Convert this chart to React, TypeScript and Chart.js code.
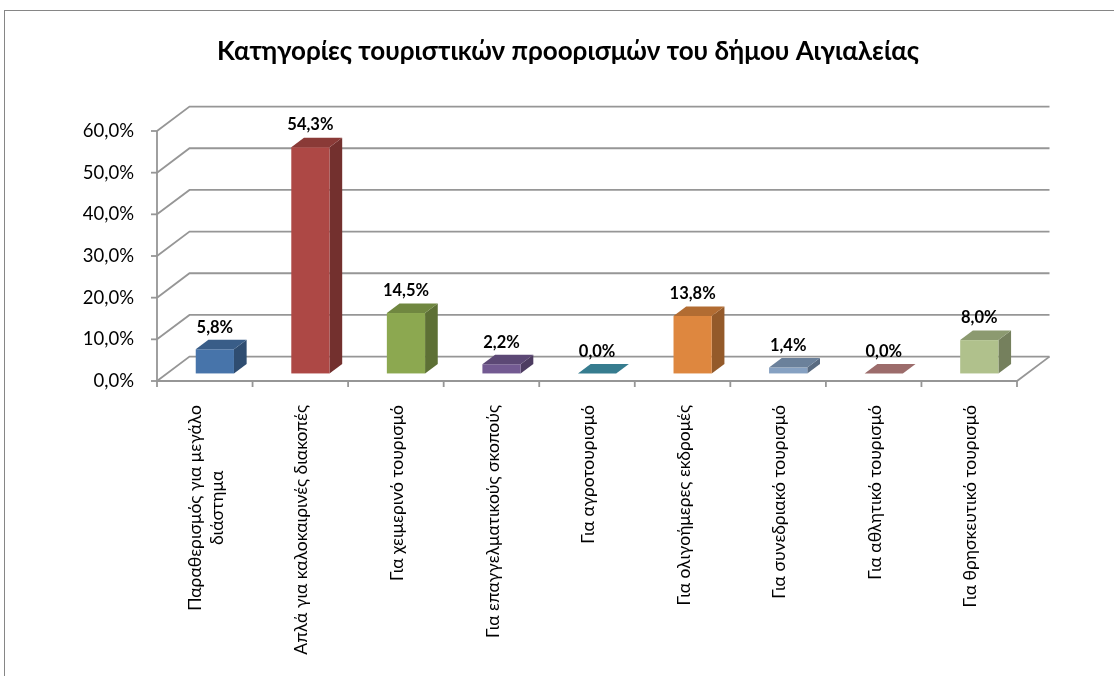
import { useEffect, useRef } from "react";
import { Chart, registerables } from "chart.js";
Chart.register(...registerables);

const chartTitle = "Κατηγορίες τουριστικών προορισμών του δήμου Αιγιαλείας";
const categories: (string | string[])[] = [
  ["Παραθερισμός για μεγάλο", "διάστημα"],
  "Απλά για καλοκαιρινές διακοπές",
  "Για χειμερινό τουρισμό",
  "Για επαγγελματικούς σκοπούς",
  "Για αγροτουρισμό",
  "Για ολιγοήμερες εκδρομές",
  "Για συνεδριακό τουρισμό",
  "Για αθλητικό τουρισμό",
  "Για θρησκευτικό τουρισμό",
];
const values = [5.8, 54.3, 14.5, 2.2, 0.0, 13.8, 1.4, 0.0, 8.0];
const yMin = 0;
const yMax = 60;
const yStep = 10;
const baseColors = [
  "#4F81BD",
  "#C0504D",
  "#9BBB59",
  "#8064A2",
  "#4BACC6",
  "#F79646",
  "#95B3D7",
  "#D99694",
  "#C3D69B",
];

const fmt = (v: number) => v.toFixed(1).replace(".", ",") + "%";

function shade(hex: string, k: number) {
  const n = parseInt(hex.slice(1), 16);
  const r = Math.round(((n >> 16) & 255) * k);
  const g = Math.round(((n >> 8) & 255) * k);
  const b = Math.round((n & 255) * k);
  return `rgb(${Math.min(255, r)},${Math.min(255, g)},${Math.min(255, b)})`;
}

const DX = 32.5;
const DY = -24.4;
const F1 = 0.31;
const F2 = 0.7;
const GRID = "#969696";

const plugin3d = {
  id: "excel3d",
  beforeDraw(chart: any) {
    const ctx = chart.ctx;
    ctx.save();
    ctx.fillStyle = "#ffffff";
    ctx.fillRect(0, 0, chart.width, chart.height);
    ctx.strokeStyle = "#868686";
    ctx.lineWidth = 1;
    ctx.strokeRect(4.5, 10.5, 1300, 800);
    ctx.fillStyle = "#000000";
    ctx.font = "bold 26px Lato";
    ctx.textAlign = "center";
    ctx.textBaseline = "middle";
    ctx.fillText(chartTitle, 568, 52);
    ctx.restore();
  },
  beforeDatasetsDraw(chart: any) {
    const ctx = chart.ctx;
    const xs = chart.scales.x;
    const ys = chart.scales.y;
    const L = chart.chartArea.left;
    const R = chart.chartArea.right;
    const B = ys.getPixelForValue(yMin);
    const T = ys.getPixelForValue(yMax);
    ctx.save();
    ctx.strokeStyle = GRID;
    ctx.lineWidth = 1.8;
    ctx.lineCap = "butt";
    for (let v = yMin; v <= yMax; v += yStep) {
      const y = ys.getPixelForValue(v);
      ctx.beginPath();
      ctx.moveTo(L, y);
      ctx.lineTo(L + DX, y + DY);
      ctx.lineTo(R + DX, y + DY);
      ctx.stroke();
      ctx.beginPath();
      ctx.moveTo(L - 6, y);
      ctx.lineTo(L, y);
      ctx.stroke();
    }
    ctx.beginPath();
    ctx.moveTo(L, T);
    ctx.lineTo(L, B);
    ctx.lineTo(R, B);
    ctx.lineTo(R + DX, B + DY);
    ctx.stroke();
    const n = categories.length;
    const cw = (R - L) / n;
    for (let i = 0; i <= n; i++) {
      const x = i < n ? xs.getPixelForValue(i) - cw / 2 : xs.getPixelForValue(n - 1) + cw / 2;
      ctx.beginPath();
      ctx.moveTo(x, B);
      ctx.lineTo(x, B + 6);
      ctx.stroke();
    }
    ctx.restore();
  },
  afterDatasetsDraw(chart: any) {
    const ctx = chart.ctx;
    const xs = chart.scales.x;
    const meta = chart.getDatasetMeta(0);
    ctx.save();
    meta.data.forEach((el: any, i: number) => {
      const p = el.getProps(["x", "y", "base", "width"], true);
      const l = p.x - p.width / 2;
      const r = p.x + p.width / 2;
      const ax = DX * F1, ay = DY * F1;
      const bx = DX * F2, by = DY * F2;
      const c = baseColors[i];
      ctx.fillStyle = shade(c, 0.6);
      ctx.beginPath();
      ctx.moveTo(r + ax, p.y + ay);
      ctx.lineTo(r + bx, p.y + by);
      ctx.lineTo(r + bx, p.base + by);
      ctx.lineTo(r + ax, p.base + ay);
      ctx.closePath();
      ctx.fill();
      ctx.fillStyle = shade(c, 0.9);
      ctx.fillRect(l + ax, p.y + ay, r - l, p.base - p.y);
      ctx.fillStyle = shade(c, 0.72);
      ctx.beginPath();
      ctx.moveTo(l + ax, p.y + ay);
      ctx.lineTo(r + ax, p.y + ay);
      ctx.lineTo(r + bx, p.y + by);
      ctx.lineTo(l + bx, p.y + by);
      ctx.closePath();
      ctx.fill();
      ctx.fillStyle = "#000000";
      ctx.font = "bold 16.5px Lato";
      ctx.textAlign = "center";
      ctx.textBaseline = "middle";
      ctx.fillText(fmt(values[i]), p.x + ax, p.y + by - 12.5);
    });
    ctx.font = "17.5px Lato";
    ctx.fillStyle = "#000000";
    ctx.textAlign = "center";
    ctx.textBaseline = "middle";
    const top = 405;
    categories.forEach((lab, i) => {
      const lines = Array.isArray(lab) ? lab : [lab];
      const maxW = Math.max(...lines.map((s) => ctx.measureText(s).width));
      const cx = xs.getPixelForValue(i) + 1.5;
      ctx.save();
      ctx.translate(cx, top + maxW / 2);
      ctx.rotate(-Math.PI / 2);
      const lh = 22;
      lines.forEach((s, k) => {
        ctx.fillText(s, 0, (k - (lines.length - 1) / 2) * lh);
      });
      ctx.restore();
    });
    ctx.restore();
  },
};

export default function App() {
  const ref = useRef<HTMLCanvasElement | null>(null);
  useEffect(() => {
    if (!ref.current) return;
    const chart = new Chart(ref.current, {
      type: "bar",
      data: {
        labels: categories as any,
        datasets: [
          {
            data: values,
            backgroundColor: "rgba(0,0,0,0)",
            borderWidth: 0,
            barPercentage: 0.4,
            categoryPercentage: 1,
          },
        ],
      },
      options: {
        responsive: false,
        animation: false,
        events: [],
        layout: { padding: { left: 0, top: 131, right: 97, bottom: 0 } },
        plugins: {
          legend: { display: false },
          title: { display: false },
          tooltip: { enabled: false },
        },
        scales: {
          x: {
            type: "category",
            offset: true,
            grid: { display: false, drawTicks: false },
            border: { display: false },
            ticks: { display: false },
            afterFit: (s: any) => {
              s.height = 295;
            },
          },
          y: {
            min: yMin,
            max: yMax,
            grid: { display: false, drawTicks: false },
            border: { display: false },
            ticks: {
              stepSize: yStep,
              padding: 23,
              color: "#000000",
              font: { family: "Lato", size: 18.5 },
              callback: (v: any) => fmt(Number(v)),
            },
            afterFit: (s: any) => {
              s.width = 157;
            },
          },
        },
      },
      plugins: [plugin3d],
    });
    return () => chart.destroy();
  }, []);
  return (
    <div style={{ position: "absolute", left: 0, top: 0, width: 1114, height: 676 }}>
      <canvas ref={ref} width={1114} height={676} />
    </div>
  );
}
